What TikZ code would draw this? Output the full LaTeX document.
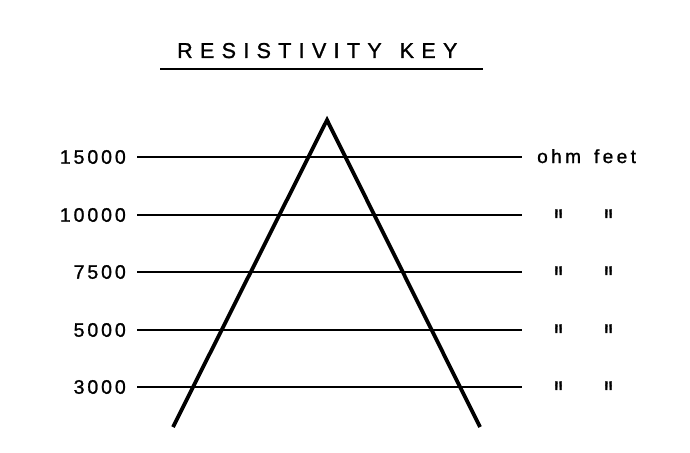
\documentclass[tikz,border=0pt]{standalone}
\usepackage{fontspec}
\usepackage{graphicx}
\setmainfont{Liberation Sans}
\newfontfamily\labfont[LetterSpace=15,FakeBold=1.2]{Liberation Sans}
\newfontfamily\titlefont[LetterSpace=34,FakeBold=1.2]{Liberation Sans}
\newfontfamily\unitfont[LetterSpace=18,FakeBold=1.2]{Liberation Sans}
\newfontfamily\dittofont[Ligatures=TeXOff,FakeBold=1.2]{Liberation Sans}
\newcommand{\dittomark}{\scalebox{1}[1.6]{\dittofont\fontsize{24}{24}\selectfont\symbol{34}}}
\begin{document}
\begin{tikzpicture}[x=1pt,y=-1pt,
  lab/.style={inner sep=0pt, font=\labfont\fontsize{19.5}{19.5}\selectfont},
  hline/.style={line width=1.9pt},
  tri/.style={line width=3.8pt, line join=miter},
  ditto/.style={inner sep=0pt, anchor=base}]
\useasboundingbox (0,0) rectangle (690,452);
% title
\node[inner sep=0pt, anchor=base west, font=\titlefont\fontsize{21.5}{21.5}\selectfont] (title) at (177,58) {RESISTIVITY\hspace{18pt}KEY};
\coordinate (ul1) at (160,69);
\coordinate (ul2) at (483,69);
\draw[line width=2.2pt] (ul1) -- (ul2);
% horizontal lines and labels
\foreach \v/\y [count=\i] in {15000/157,10000/215,7500/272,5000/330,3000/387}{
  \node[lab, anchor=east] (lab\i) at (126,\y) {\v};
  \coordinate (s\i) at (137,\y);
  \coordinate (e\i) at (522,\y);
  \draw[hline] (s\i) -- (e\i);
}
% triangle
\coordinate (apex) at (327,120);
\coordinate (lfoot) at (173,427);
\coordinate (rfoot) at (480,427);
\draw[tri] (lfoot) -- (apex) -- (rfoot);
% units
\node[inner sep=0pt, anchor=base west, font=\unitfont\fontsize{19}{19}\selectfont] (units) at (537,163) {ohm\hspace{13pt}feet};
\foreach \y [count=\i] in {215,272,330,387}{
  \node[ditto] (da\i) at (558.5,\y+21) {\dittomark};
  \node[ditto] (db\i) at (608.5,\y+21) {\dittomark};
}
\end{tikzpicture}
\end{document}
